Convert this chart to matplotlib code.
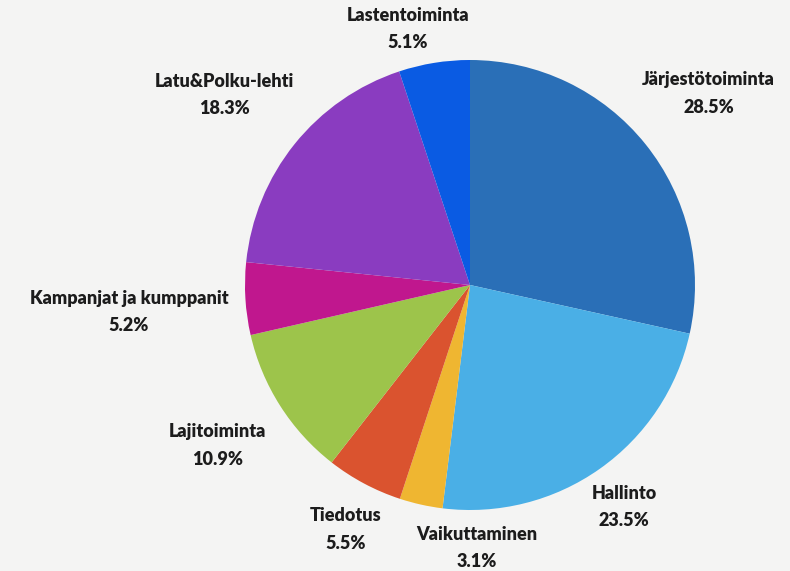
import numpy as np
import matplotlib
matplotlib.use("Agg")
import matplotlib.pyplot as plt

# Budget shares, clockwise from 12 o'clock
categories = ["Järjestötoiminta", "Hallinto", "Vaikuttaminen", "Tiedotus",
              "Lajitoiminta", "Kampanjat ja kumppanit", "Latu&Polku-lehti",
              "Lastentoiminta"]
shares = [28.5, 23.5, 3.1, 5.5, 10.9, 5.2, 18.3, 5.1]

colors = ["#2a6fb7", "#4aafe6", "#efb631", "#da532f",
          "#9dc44b", "#c0178e", "#8a3cc0", "#0a5be3"]

# label placement: radial distance (in radii) and angle nudge (deg)
label_dist = [1.36, 1.20, 1.17, 1.22, 1.33, 1.52, 1.38, 1.17]
label_nudge = [0, -0.5, 14, 1, 0, 1, 1, 4.5]

plt.rcParams["font.family"] = ["Lato", "DejaVu Sans"]

fig = plt.figure(figsize=(7.9, 5.71), dpi=100)
fig.patch.set_facecolor("#f4f4f3")
ax = fig.add_axes([0, 0, 1, 1])
ax.set_facecolor("#f4f4f3")

cx, cy, r = 470, 286, 225
wedges, _ = ax.pie(shares, colors=colors, startangle=90, counterclock=False,
                   center=(cx, cy), radius=r, frame=True,
                   wedgeprops={"linewidth": 0})
ax.set_xlim(0, 790)
ax.set_ylim(0, 571)
ax.set_aspect("equal")
ax.axis("off")

for w, name, val, d, nd in zip(wedges, categories, shares, label_dist, label_nudge):
    ang = np.deg2rad((w.theta1 + w.theta2) / 2 + nd)
    x = cx + d * r * np.cos(ang)
    y = cy + d * r * np.sin(ang)
    ax.text(x, y, f"{name}\n{val}%", ha="center", va="center",
            fontsize=13, fontweight="heavy", color="#1c1c1c", linespacing=1.75)

fig.savefig("out.png", dpi=100, facecolor=fig.get_facecolor())
